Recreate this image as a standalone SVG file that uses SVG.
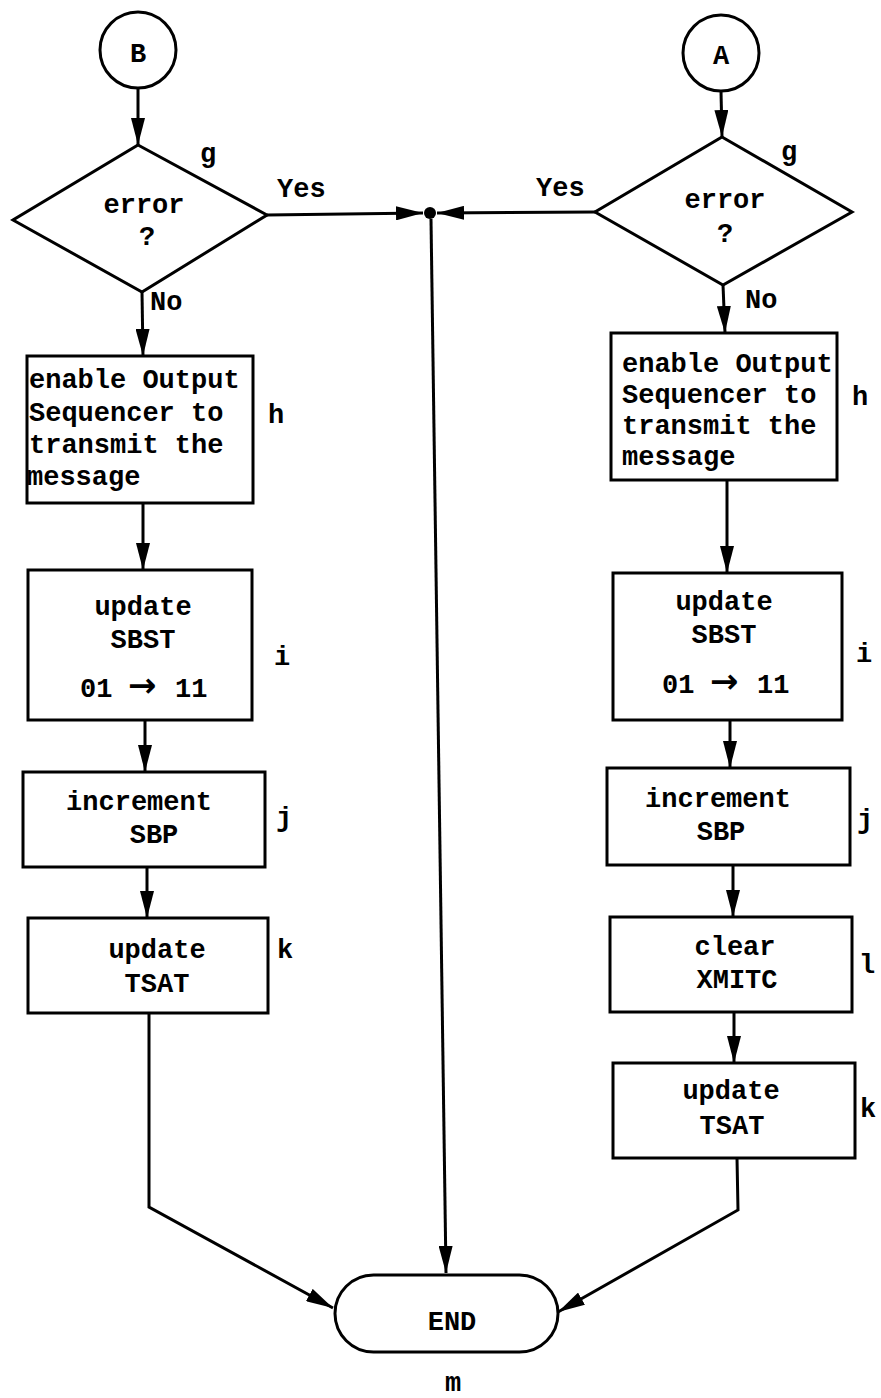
<svg xmlns="http://www.w3.org/2000/svg" width="881" height="1398" viewBox="0 0 881 1398">
  <defs>
    <style>
      .shape { fill: #fff; stroke: #000; stroke-width: 3; }
      .wire { fill: none; stroke: #000; stroke-width: 3; }
      text { font-family: "Liberation Mono", "DejaVu Sans Mono", monospace; font-size: 27px; font-weight: bold; fill: #000; }
      .c { text-anchor: middle; }
      .arr { font-family: "DejaVu Sans", sans-serif; font-size: 34px; }
    </style>
    <marker id="arrow" markerUnits="userSpaceOnUse" markerWidth="28" markerHeight="14" refX="27" refY="7" orient="auto">
      <path d="M0,0 L27,7 L0,14 Z" fill="#000"/>
    </marker>
  </defs>

  <rect width="881" height="1398" fill="#fff"/>

  <!-- connectors -->
  <g id="connectors" class="wire">
    <!-- left column (entry B) -->
    <line x1="138" y1="89" x2="138" y2="145" marker-end="url(#arrow)"/>
    <line x1="142" y1="292" x2="143" y2="356" marker-end="url(#arrow)"/>
    <line x1="143" y1="503" x2="143" y2="570" marker-end="url(#arrow)"/>
    <line x1="145" y1="720" x2="145" y2="772" marker-end="url(#arrow)"/>
    <line x1="147" y1="867" x2="147" y2="918" marker-end="url(#arrow)"/>
    <polyline points="149,1013 149,1207 333,1308" marker-end="url(#arrow)"/>
    <line x1="267" y1="215" x2="423" y2="213" marker-end="url(#arrow)"/>

    <!-- right column (entry A) -->
    <line x1="721" y1="91" x2="722" y2="137" marker-end="url(#arrow)"/>
    <line x1="723" y1="285" x2="725" y2="333" marker-end="url(#arrow)"/>
    <line x1="727" y1="480" x2="727" y2="573" marker-end="url(#arrow)"/>
    <line x1="730" y1="720" x2="730" y2="768" marker-end="url(#arrow)"/>
    <line x1="733" y1="865" x2="733" y2="917" marker-end="url(#arrow)"/>
    <line x1="734" y1="1012" x2="734" y2="1063" marker-end="url(#arrow)"/>
    <polyline points="737,1158 738,1210 558,1312" marker-end="url(#arrow)"/>
    <line x1="595" y1="212" x2="437" y2="213" marker-end="url(#arrow)"/>

    <!-- junction down to END -->
    <line x1="431" y1="219" x2="446" y2="1273" marker-end="url(#arrow)"/>
  </g>

  <g id="junction">
    <circle cx="430" cy="213" r="6" fill="#000"/>
  </g>

  <!-- left column -->
  <g id="connector-B">
    <circle class="shape" cx="138" cy="50" r="38"/>
    <text class="c" x="138" y="62">B</text>
  </g>
  <g id="decision-B">
    <polygon class="shape" points="138,145 267,215 142,292 13,220"/>
    <text class="c" x="144" y="213">error</text>
    <text class="c" x="147" y="245">?</text>
    <text x="200" y="162">g</text>
    <text x="277" y="197">Yes</text>
    <text x="150" y="310">No</text>
  </g>
  <g id="enable-B">
    <rect class="shape" x="27" y="356" width="226" height="147"/>
    <text x="29" y="388">enable Output</text>
    <text x="29" y="421">Sequencer to</text>
    <text x="29" y="453">transmit the</text>
    <text x="27" y="485">message</text>
    <text x="268" y="423">h</text>
  </g>
  <g id="sbst-B">
    <rect class="shape" x="28" y="570" width="224" height="150"/>
    <text class="c" x="143" y="615">update</text>
    <text class="c" x="143" y="648">SBST</text>
    <text y="697"><tspan x="80">01</tspan><tspan class="arr" x="128">→</tspan><tspan x="175">11</tspan></text>
    <text x="274" y="665">i</text>
  </g>
  <g id="sbp-B">
    <rect class="shape" x="23" y="772" width="242" height="95"/>
    <text class="c" x="139" y="810">increment</text>
    <text class="c" x="154" y="843">SBP</text>
    <text x="276" y="826">j</text>
  </g>
  <g id="tsat-B">
    <rect class="shape" x="28" y="918" width="240" height="95"/>
    <text class="c" x="157" y="958">update</text>
    <text class="c" x="157" y="992">TSAT</text>
    <text x="277" y="958">k</text>
  </g>

  <!-- right column -->
  <g id="connector-A">
    <circle class="shape" cx="721" cy="53" r="38"/>
    <text class="c" x="721" y="64">A</text>
  </g>
  <g id="decision-A">
    <polygon class="shape" points="722,137 852,212 723,285 595,212"/>
    <text class="c" x="725" y="208">error</text>
    <text class="c" x="725" y="242">?</text>
    <text x="781" y="160">g</text>
    <text x="536" y="196">Yes</text>
    <text x="745" y="308">No</text>
  </g>
  <g id="enable-A">
    <rect class="shape" x="611" y="333" width="226" height="147"/>
    <text x="622" y="372">enable Output</text>
    <text x="622" y="403">Sequencer to</text>
    <text x="622" y="434">transmit the</text>
    <text x="622" y="465">message</text>
    <text x="852" y="405">h</text>
  </g>
  <g id="sbst-A">
    <rect class="shape" x="613" y="573" width="229" height="147"/>
    <text class="c" x="724" y="610">update</text>
    <text class="c" x="724" y="643">SBST</text>
    <text y="693"><tspan x="662">01</tspan><tspan class="arr" x="710">→</tspan><tspan x="757">11</tspan></text>
    <text x="856" y="662">i</text>
  </g>
  <g id="sbp-A">
    <rect class="shape" x="607" y="768" width="243" height="97"/>
    <text class="c" x="718" y="807">increment</text>
    <text class="c" x="721" y="840">SBP</text>
    <text x="857" y="828">j</text>
  </g>
  <g id="xmitc-A">
    <rect class="shape" x="610" y="917" width="242" height="95"/>
    <text class="c" x="735" y="955">clear</text>
    <text class="c" x="737" y="988">XMITC</text>
    <text x="859" y="973">l</text>
  </g>
  <g id="tsat-A">
    <rect class="shape" x="613" y="1063" width="242" height="95"/>
    <text class="c" x="731" y="1099">update</text>
    <text class="c" x="732" y="1134">TSAT</text>
    <text x="860" y="1117">k</text>
  </g>

  <!-- terminator -->
  <g id="end">
    <rect class="shape" x="335" y="1275" width="223" height="77" rx="38.5" ry="38.5"/>
    <text class="c" x="452" y="1330">END</text>
    <text class="c" x="453" y="1391">m</text>
  </g>
</svg>
